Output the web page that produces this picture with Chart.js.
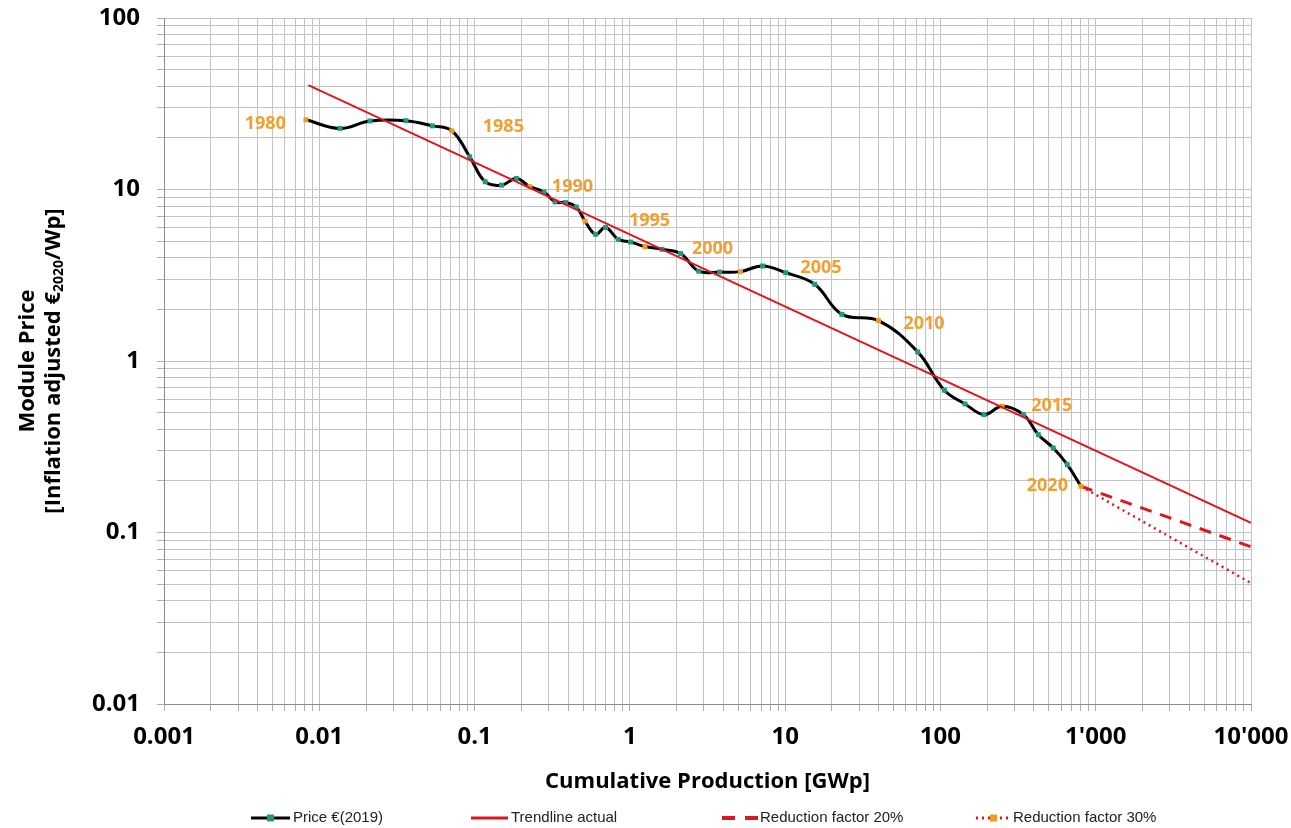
<!DOCTYPE html>
<html lang="en">
<head>
<meta charset="UTF-8">
<title>PV Learning Curve</title>
<script src="https://cdn.jsdelivr.net/npm/chart.js"></script>
<style>
  body { margin: 0; background: #fff; }
  canvas { display: block; }
</style>
</head>
<body>
<canvas id="myChart" width="1291" height="828"></canvas>
<script>
// --- data ---
const years = [1980, 1981, 1982, 1983, 1984, 1985, 1986, 1987, 1988, 1989,
               1990, 1991, 1992, 1993, 1994, 1995, 1996, 1997, 1998, 1999,
               2000, 2001, 2002, 2003, 2004, 2005, 2006, 2007, 2008, 2009,
               2010, 2011, 2012, 2013, 2014, 2015, 2016, 2017, 2018, 2019, 2020];
// cumulative production [GWp]
const cumProd = [0.0082, 0.0136, 0.0212, 0.0361, 0.0535, 0.0713, 0.0931, 0.117, 0.149, 0.186,
                 0.227, 0.280, 0.330, 0.386, 0.452, 0.514, 0.601, 0.698, 0.841, 1.01,
                 1.25, 1.61, 2.12, 2.78, 3.78, 5.15, 7.16, 10.1, 15.5, 23.2,
                 39.9, 71.4, 106, 144, 191, 250, 342, 427, 533, 656, 803];
// module price [EUR2020/Wp]
const price = [25.5, 22.7, 25.1, 25.2, 23.5, 22.0, 15.5, 11.1, 10.6, 11.6,
               10.4, 9.68, 8.46, 8.39, 7.91, 6.55, 5.48, 6.0, 5.12, 4.94,
               4.65, 4.48, 4.23, 3.34, 3.30, 3.32, 3.58, 3.27, 2.80, 1.87,
               1.72, 1.13, 0.676, 0.562, 0.487, 0.545, 0.487, 0.372, 0.311, 0.249, 0.186];

const trendX = [0.0085, 10000];
const trendY = [40.6, 0.114];
const red20X = [803, 10000];
const red20Y = [0.186, 0.0826];
const red30X = [803, 10000];
const red30Y = [0.186, 0.0507];

const xTickLabels = ['0.001', '0.01', '0.1', '1', '10', '100', "1'000", "10'000"];
const yTickLabels = ['0.01', '0.1', '1', '10', '100'];

// colours
const teal = '#1d9a80';
const orange = '#f29b1d';
const red = '#e0161e';

function logTicks(minExp, maxExp) {
    const t = [];
    for (let e = minExp; e < maxExp; e++) {
        for (let m = 1; m < 10; m++) t.push(+(m * Math.pow(10, e)).toPrecision(6));
    }
    t.push(Math.pow(10, maxExp));
    return t;
}
const xTickValues = logTicks(-3, 4);
const yTickValues = logTicks(-2, 2);

function decadeLabel(value, labels, minExp) {
    const lg = Math.log10(value);
    if (Math.abs(lg - Math.round(lg)) < 1e-6) return labels[Math.round(lg) - minExp];
    return '';
}

function pts(xs, ys) {
    return xs.map((x, i) => ({ x: x, y: ys[i] }));
}

// year labels next to every 5th point
const yearLabelPos = {
    1980: [-20, 'right', 4], 1985: [31, 'left', -4], 1990: [22, 'left', 0],
    1995: [44, 'left', 0], 2000: [47, 'left', 2], 2005: [60, 'left', -4],
    2010: [25, 'left', 3], 2015: [29, 'left', 0], 2020: [-13, 'right', 0]
};

const yearLabels = {
    id: 'yearLabels',
    afterDatasetsDraw(chart) {
        const ctx = chart.ctx;
        const meta = chart.getDatasetMeta(0);
        ctx.save();
        ctx.font = 'bold 18px "Open Sans"';
        ctx.fillStyle = '#f0a032';
        ctx.textBaseline = 'middle';
        years.forEach((yr, i) => {
            const p = yearLabelPos[yr];
            if (!p) return;
            const el = meta.data[i];
            ctx.textAlign = p[1];
            ctx.fillText(String(yr), el.x + p[0], el.y + p[2]);
        });
        ctx.restore();
    }
};

// y title with subscript, and legend
const extras = {
    id: 'extras',
    afterDraw(chart) {
        const ctx = chart.ctx;
        const area = chart.chartArea;
        const cy = (area.top + area.bottom) / 2;
        ctx.save();
        ctx.fillStyle = '#000';
        ctx.textBaseline = 'middle';
        // rotated y title
        ctx.translate(0, cy);
        ctx.rotate(-Math.PI / 2);
        ctx.textAlign = 'center';
        ctx.font = 'bold 22px "Open Sans"';
        ctx.fillText('Module Price', 0, 28);
        const big = 'bold 22px "Open Sans"', small = 'bold 14px "Open Sans"';
        const parts = [['[Inflation adjusted €', big, 0], ['2020', small, 5], ['/Wp]', big, 0]];
        let w = 0;
        parts.forEach(p => { ctx.font = p[1]; w += ctx.measureText(p[0]).width; });
        let x = -w / 2;
        ctx.textAlign = 'left';
        parts.forEach(p => {
            ctx.font = p[1];
            ctx.fillText(p[0], x, 54 + p[2]);
            x += ctx.measureText(p[0]).width;
        });
        ctx.restore();

        // legend
        const ly = 818;
        ctx.save();
        ctx.lineCap = 'butt';
        // price
        ctx.strokeStyle = '#000'; ctx.lineWidth = 3;
        ctx.beginPath(); ctx.moveTo(251, ly); ctx.lineTo(290, ly); ctx.stroke();
        ctx.fillStyle = teal; ctx.fillRect(267, ly - 3.5, 7, 7);
        // trend
        ctx.strokeStyle = red; ctx.lineWidth = 3;
        ctx.beginPath(); ctx.moveTo(471, ly); ctx.lineTo(508, ly); ctx.stroke();
        // 20%
        ctx.lineWidth = 4;
        ctx.setLineDash([13, 10]);
        ctx.beginPath(); ctx.moveTo(722, ly); ctx.lineTo(758, ly); ctx.stroke();
        // 30%
        ctx.lineWidth = 3;
        ctx.setLineDash([2, 4]);
        ctx.beginPath(); ctx.moveTo(976, ly); ctx.lineTo(1011, ly); ctx.stroke();
        ctx.setLineDash([]);
        ctx.fillStyle = orange; ctx.fillRect(990, ly - 3.5, 7, 7);

        ctx.fillStyle = '#222';
        ctx.font = '15px "Liberation Sans Narrow", "Liberation Sans"';
        ctx.textAlign = 'left';
        ctx.textBaseline = 'middle';
        ctx.fillText('Price €(2019)', 293, ly);
        ctx.fillText('Trendline actual', 511, ly);
        ctx.fillText('Reduction factor 20%', 760, ly);
        ctx.fillText('Reduction factor 30%', 1013, ly);
        ctx.restore();
    }
};

const tickFont = { family: '"Open Sans"', size: 24, weight: 'bold' };

const config = {
    type: 'line',
    data: {
        datasets: [
            {
                label: 'Price €(2019)',
                data: pts(cumProd, price),
                borderColor: '#000',
                borderWidth: 3,
                tension: 0.4,
                pointStyle: 'rect',
                pointRadius: 3.5,
                pointBorderWidth: 0,
                pointBackgroundColor: years.map(y => y % 5 === 0 ? orange : teal),
                order: 1
            },
            {
                label: 'Trendline actual',
                data: pts(trendX, trendY),
                borderColor: red,
                borderWidth: 2,
                pointRadius: 0,
                order: 0
            },
            {
                label: 'Reduction factor 20%',
                data: pts(red20X, red20Y),
                borderColor: red,
                borderWidth: 3,
                borderDash: [12, 9],
                pointRadius: 0,
                order: 2
            },
            {
                label: 'Reduction factor 30%',
                data: pts(red30X, red30Y),
                borderColor: red,
                borderWidth: 2.5,
                borderDash: [2, 4],
                pointRadius: 0,
                order: 3
            }
        ]
    },
    options: {
        responsive: false,
        animation: false,
        devicePixelRatio: 1,
        layout: { padding: { left: 0, right: 40, top: 18, bottom: 33 } },
        plugins: { legend: { display: false }, tooltip: { enabled: false } },
        scales: {
            x: {
                type: 'logarithmic',
                min: 0.001,
                max: 10000,
                afterBuildTicks: s => { s.ticks = xTickValues.map(v => ({ value: v })); },
                afterFit: s => { s.height = 91; s.paddingLeft = 0; s.paddingRight = 0; },
                grid: { color: '#c3c3c3', lineWidth: 1, tickLength: 7, tickColor: '#b0b0b0' },
                border: { color: '#8c8c8c', width: 1 },
                ticks: {
                    autoSkip: false, maxRotation: 0, padding: 12,
                    color: '#000', font: tickFont,
                    callback: v => decadeLabel(v, xTickLabels, -3)
                },
                title: {
                    display: true,
                    text: 'Cumulative Production [GWp]',
                    color: '#000',
                    font: { family: '"Open Sans"', size: 22, weight: 'bold' },
                    padding: { top: 0, bottom: 0 }
                }
            },
            y: {
                type: 'logarithmic',
                min: 0.01,
                max: 100,
                afterBuildTicks: s => { s.ticks = yTickValues.map(v => ({ value: v })); },
                afterFit: s => { s.width = 164; s.paddingTop = 0; s.paddingBottom = 0; },
                grid: { color: '#c3c3c3', lineWidth: 1, tickLength: 7, tickColor: '#b0b0b0' },
                border: { color: '#8c8c8c', width: 1 },
                ticks: {
                    autoSkip: false, padding: 17,
                    color: '#000', font: tickFont,
                    callback: v => decadeLabel(v, yTickLabels, -2)
                }
            }
        }
    },
    plugins: [yearLabels, extras]
};

const myChart = new Chart(document.getElementById('myChart'), config);
</script>
</body>
</html>
